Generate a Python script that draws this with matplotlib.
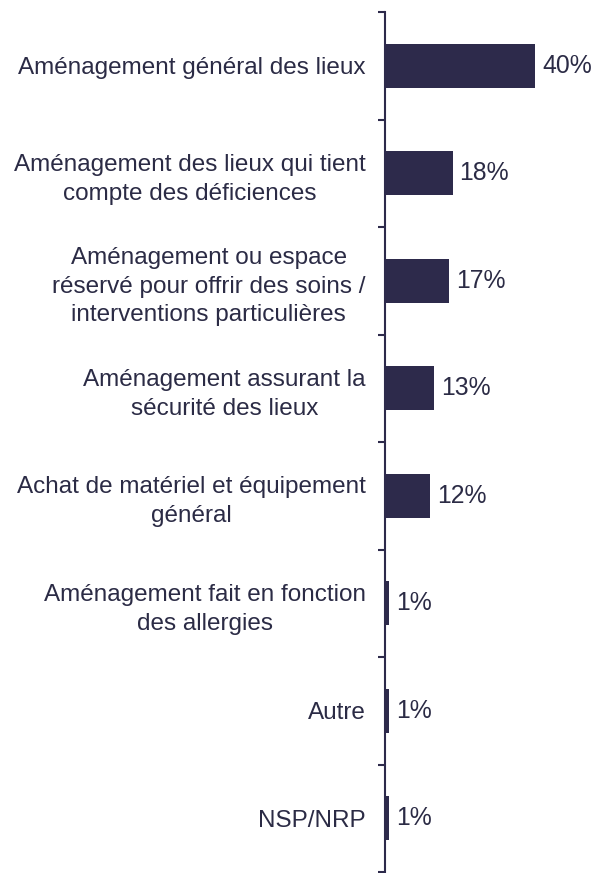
import matplotlib
matplotlib.use("Agg")
import matplotlib.pyplot as plt
import numpy as np

categories = [
    "Aménagement général des lieux",
    "Aménagement des lieux qui tient\ncompte des déficiences",
    "Aménagement ou espace\nréservé pour offrir des soins /\ninterventions particulières",
    "Aménagement assurant la\nsécurité des lieux",
    "Achat de matériel et équipement\ngénéral",
    "Aménagement fait en fonction\ndes allergies",
    "Autre",
    "NSP/NRP",
]
values = [40, 18, 17, 13, 12, 1, 1, 1]
value_labels = ["40%", "18%", "17%", "13%", "12%", "1%", "1%", "1%"]

bar_color = "#2D2A4B"
text_color = "#2B2B45"

plt.rcParams["font.family"] = ["Liberation Sans", "DejaVu Sans"]

fig = plt.figure(figsize=(5.94, 8.73), dpi=100)
ax = fig.add_axes([385 / 594, 1 / 873, 1 - 385 / 594, 1 - 13 / 873])

y = np.arange(len(categories))
ax.barh(y, values, height=0.41, color=bar_color)

ax.set_ylim(len(categories) - 0.5, -0.5)
ax.set_xlim(0, (594 - 385) / 3.75)

for yi, v, lab in zip(y, values, value_labels):
    ax.annotate(lab, xy=(v, yi), xytext=(5, 0), textcoords="offset points",
                va="center", ha="left", fontsize=17.8, color=text_color)

ax.set_yticks(y)
ax.set_yticklabels(categories, fontsize=17.5, color=text_color)
for t in ax.get_yticklabels():
    t.set_multialignment("center")
    t.set_linespacing(1.4)
ax.tick_params(axis="y", which="major", length=0, pad=14)
ax.set_yticks(np.arange(-0.5, len(categories) + 0.5, 1), minor=True)
ax.tick_params(axis="y", which="minor", length=5, width=1.5, color=bar_color)

ax.set_xticks([])
for s in ["top", "right", "bottom"]:
    ax.spines[s].set_visible(False)
ax.spines["left"].set_color(bar_color)
ax.spines["left"].set_linewidth(1.5)

fig.savefig("out.png", dpi=100)
